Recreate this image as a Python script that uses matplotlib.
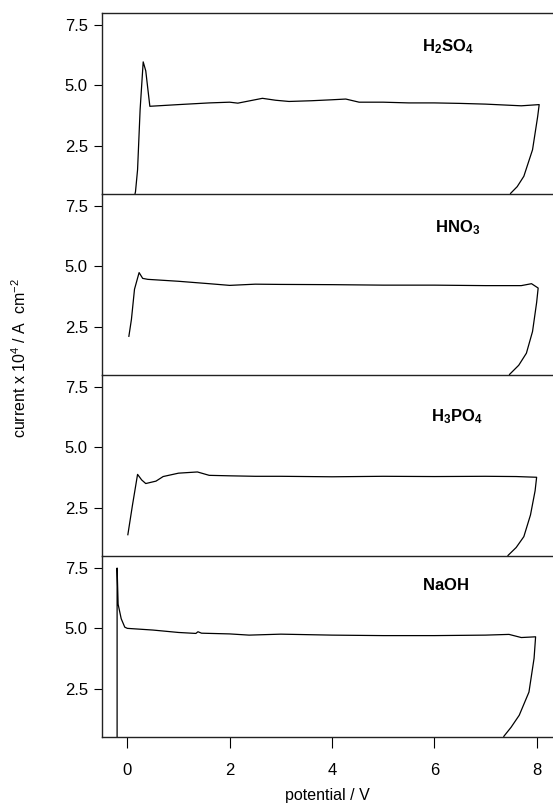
import matplotlib.pyplot as plt
import numpy as np

plt.rcParams['font.family'] = ['Liberation Sans', 'DejaVu Sans']
plt.rcParams['mathtext.fontset'] = 'custom'
plt.rcParams['mathtext.rm'] = 'Liberation Sans'
plt.rcParams['mathtext.bf'] = 'Liberation Sans:bold'
plt.rcParams['mathtext.it'] = 'Liberation Sans:italic'

h2so4_x = [0.10, 0.16, 0.20, 0.25, 0.31, 0.36, 0.44, 1.0, 1.6, 2.0, 2.16, 2.4, 2.64, 2.9, 3.16,
           3.6, 4.0, 4.27, 4.53, 5.0, 5.5, 6.0, 6.5, 7.0, 7.7, 8.05,
           8.02, 7.92, 7.75, 7.62, 7.49, 7.45]
h2so4_y = [0.0, 0.6, 1.5, 4.0, 5.97, 5.6, 4.13, 4.2, 4.27, 4.3, 4.26, 4.36, 4.46, 4.38, 4.33,
           4.36, 4.4, 4.43, 4.3, 4.3, 4.27, 4.27, 4.25, 4.22, 4.15, 4.2,
           3.7, 2.33, 1.23, 0.8, 0.52, 0.0]

hno3_x = [0.03, 0.08, 0.14, 0.23, 0.30, 0.4, 1.0, 1.6, 2.0, 2.5, 3.0, 4.0, 5.0, 6.0, 7.0, 7.7,
          7.9, 8.03, 8.0, 7.92, 7.8, 7.65, 7.47, 7.43]
hno3_y = [2.1, 2.8, 4.05, 4.74, 4.5, 4.46, 4.38, 4.28, 4.21, 4.26, 4.25, 4.24, 4.22, 4.22, 4.2, 4.2,
          4.28, 4.1, 3.5, 2.3, 1.4, 0.9, 0.52, 0.0]

h3po4_x = [0.01, 0.1, 0.2, 0.28, 0.36, 0.56, 0.7, 1.0, 1.37, 1.6, 2.0, 2.5, 3.0, 4.0, 5.0, 6.0, 7.0,
           7.6, 8.0, 7.97, 7.88, 7.75, 7.6, 7.44, 7.4]
h3po4_y = [1.38, 2.6, 3.88, 3.65, 3.5, 3.6, 3.79, 3.93, 3.98, 3.84, 3.82, 3.8, 3.8, 3.78, 3.8, 3.79, 3.8,
           3.79, 3.76, 3.2, 2.2, 1.3, 0.85, 0.52, 0.0]

naoh_x = [-0.20, -0.20, -0.18, -0.12, -0.05, 0.0, 0.5, 1.0, 1.34, 1.38, 1.45, 2.0, 2.38, 3.0, 4.0,
          5.0, 6.0, 7.0, 7.46, 7.7, 7.98, 7.95, 7.85, 7.66, 7.5, 7.36, 7.3]
naoh_y = [0.0, 7.5, 6.0, 5.4, 5.05, 5.0, 4.93, 4.83, 4.79, 4.86, 4.8, 4.77, 4.72, 4.76, 4.72,
          4.7, 4.7, 4.72, 4.75, 4.62, 4.65, 3.76, 2.36, 1.4, 0.9, 0.53, 0.0]

panels = [
    (h2so4_x, h2so4_y, r'$\mathbf{H_2SO_4}$', 5.76, 6.59),
    (hno3_x, hno3_y, r'$\mathbf{HNO_3}$', 6.01, 6.59),
    (h3po4_x, h3po4_y, r'$\mathbf{H_3PO_4}$', 5.94, 6.27),
    (naoh_x, naoh_y, r'$\mathbf{NaOH}$', 5.76, 6.8),
]

fig, axes = plt.subplots(4, 1, sharex=True, figsize=(5.53, 8.05), dpi=100)
fig.subplots_adjust(left=0.184, right=1.0, top=0.984, bottom=0.0845, hspace=0)

for i, (ax, (x, y, name, tx, ty)) in enumerate(zip(axes, panels)):
    ax.set_facecolor('none')
    ax.set_zorder(10 - i)
    ax.plot(x, y, color='black', linewidth=0.9)
    ax.set_xlim(-0.5, 8.32)
    ax.set_ylim(0.5, 8.0)
    ax.set_yticks([2.5, 5.0, 7.5])
    ax.set_yticklabels(['2.5', '5.0', '7.5'])
    ax.text(tx, ty, name, fontsize=12, ha='left', va='center')
    ax.spines['right'].set_visible(False)
    if i > 0:
        ax.spines['top'].set_visible(False)
    for s in ax.spines.values():
        s.set_color('#222222')
        s.set_linewidth(1.0)
    ax.tick_params(axis='y', direction='out', length=6, width=0.8, labelsize=12, pad=4)
    if i < 3:
        ax.tick_params(axis='x', bottom=False)

axes[-1].set_xticks([0, 2, 4, 6, 8])
axes[-1].tick_params(axis='x', direction='out', length=8, width=0.8, labelsize=12, pad=11)
axes[-1].set_xlabel('potential / V', fontsize=11.5, labelpad=7)
fig.text(0.036, 0.555, r'current x 10$^{4}$ / A  cm$^{-2}$', rotation=90,
         fontsize=11.5, ha='center', va='center')

fig.savefig('out.png', dpi=100)
